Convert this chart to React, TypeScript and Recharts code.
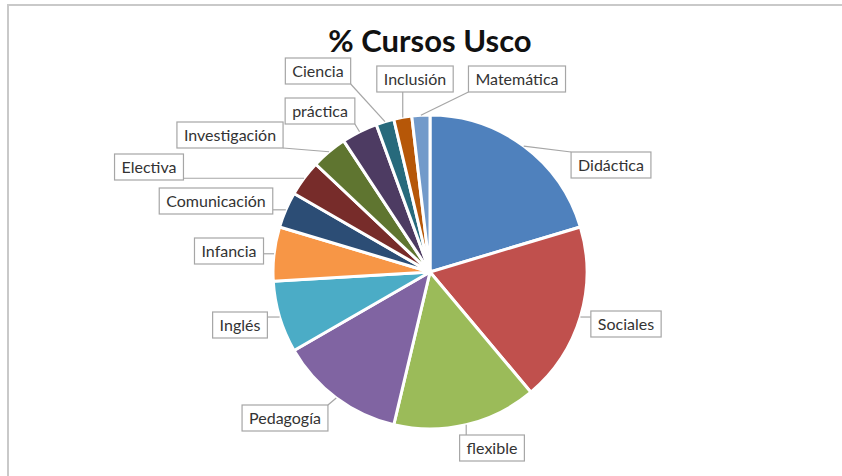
import React from 'react';
import { PieChart, Pie, Cell } from 'recharts';

// Cursos por área (cantidad)
const categories = [
  'Didáctica', 'Sociales', 'flexible', 'Pedagogía', 'Inglés', 'Infancia',
  'Comunicación', 'Electiva', 'Investigación', 'práctica', 'Ciencia', 'Inclusión', 'Matemática',
];
const cursos = [11, 10, 8, 7, 4, 3, 2, 2, 2, 2, 1, 1, 1];

const colors = [
  '#4F81BD', '#C0504D', '#9BBB59', '#8064A2', '#4BACC6', '#F79646',
  '#2C4D75', '#772C2A', '#5F7530', '#4D3B62', '#276A7C', '#B65708', '#729ACA',
];

// centre of each callout box, relative to the pie centre
const calloutOffsets: [number, number][] = [
  [181, -107], [196, 52], [62, 176], [-145, 146], [-190, 53], [-201, -21],
  [-214, -71], [-281, -105], [-200, -137], [-110, -161], [-112, -201], [-15, -193], [87, -193],
];

const data = categories.map((name, i) => ({ name, value: cursos[i] }));

const RADIAN = Math.PI / 180;
const LABEL_FONT = '16px Lato';

let ctx: CanvasRenderingContext2D | null = null;
const textWidth = (s: string) => {
  if (!ctx) ctx = document.createElement('canvas').getContext('2d');
  if (!ctx) return s.length * 8;
  ctx.font = LABEL_FONT;
  return ctx.measureText(s).width;
};

const renderCallout = (props: any) => {
  const { cx, cy, midAngle, outerRadius, index, name } = props;
  const ex = cx + outerRadius * Math.cos(-midAngle * RADIAN);
  const ey = cy + outerRadius * Math.sin(-midAngle * RADIAN);
  const [ox, oy] = calloutOffsets[index];
  const bx = cx + ox;
  const by = cy + oy;
  const w = textWidth(name) + 14;
  const h = 26;
  const left = bx - w / 2;
  const top = by - h / 2;
  const lx = Math.min(Math.max(ex, left), left + w);
  const ly = Math.min(Math.max(ey, top), top + h);
  return (
    <g key={`callout-${index}`}>
      <line x1={ex} y1={ey} x2={lx} y2={ly} stroke="#a6a6a6" strokeWidth={1.2} />
      <rect x={left} y={top} width={w} height={h} fill="#fff" stroke="#a6a6a6" strokeWidth={1.2} />
      <text x={bx} y={by + 5.5} textAnchor="middle" fill="#333" style={{ font: LABEL_FONT }}>
        {name}
      </text>
    </g>
  );
};

export default function App() {
  return (
    <div style={{ position: 'absolute', left: 0, top: 0, width: 842, height: 476, background: '#fff', fontFamily: 'Lato, sans-serif' }}>
      <div
        style={{
          position: 'absolute', left: 7, top: 4, right: 0, bottom: 0,
          borderTop: '2px solid #c9c9c9', borderLeft: '2px solid #c9c9c9',
        }}
      />
      <div
        style={{
          position: 'absolute', left: 0, width: 860, top: 24, textAlign: 'center',
          fontSize: 31, lineHeight: '32px', fontWeight: 700, color: '#111',
        }}
      >
        % Cursos Usco
      </div>
      <div style={{ position: 'absolute', left: 0, top: 0 }}>
        <PieChart width={842} height={476} margin={{ top: 0, right: 0, bottom: 0, left: 0 }}>
          <Pie
            data={data}
            dataKey="value"
            nameKey="name"
            cx={430}
            cy={272}
            outerRadius={157}
            startAngle={90}
            endAngle={-270}
            stroke="#fff"
            strokeWidth={3}
            label={renderCallout}
            labelLine={false}
            isAnimationActive={false}
          >
            {data.map((d, i) => (
              <Cell key={d.name} fill={colors[i]} />
            ))}
          </Pie>
        </PieChart>
      </div>
    </div>
  );
}
